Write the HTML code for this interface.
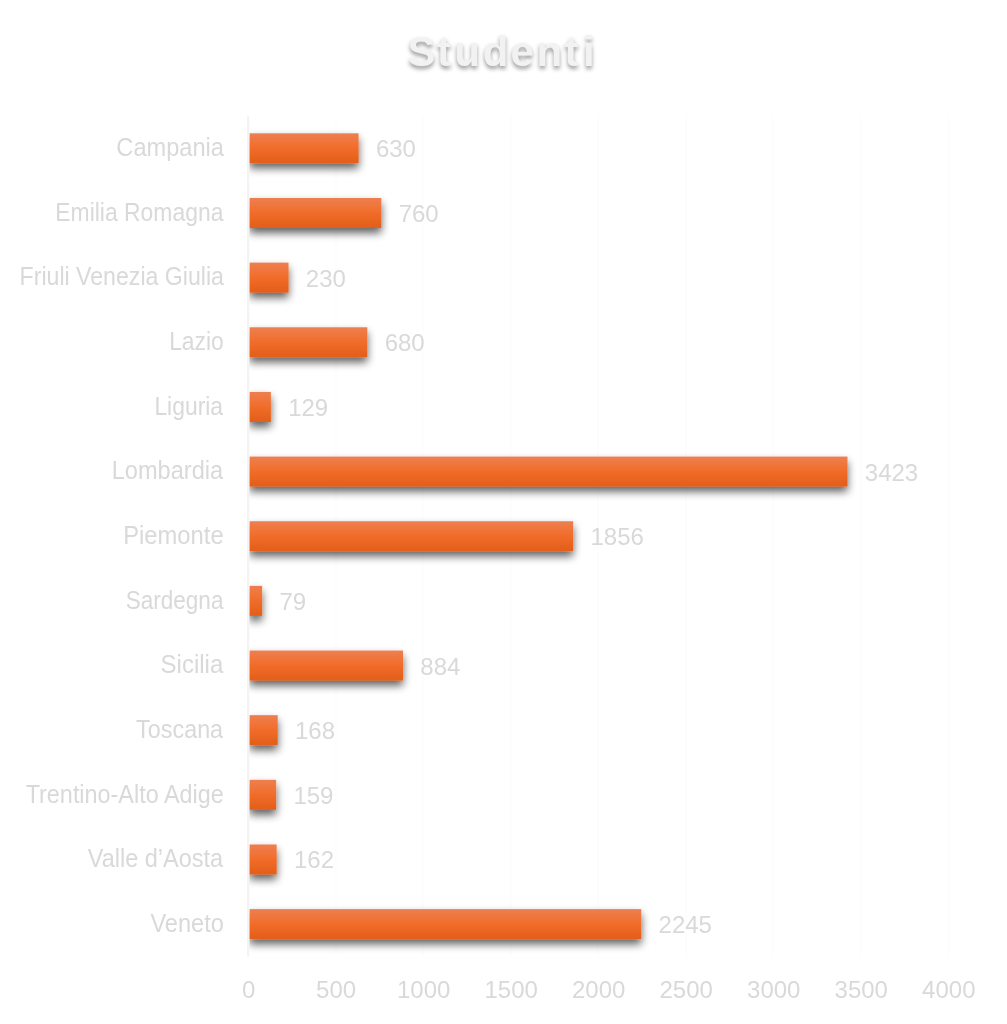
<!DOCTYPE html>
<html lang="it"><head><meta charset="utf-8"><title>Studenti</title>
<style>
html,body{margin:0;padding:0;background:#fff;}
body{width:1007px;height:1024px;position:relative;overflow:hidden;font-family:"Liberation Sans",sans-serif;color:#d9d9d9;font-size:24px;}
svg{position:absolute;left:0;top:0;}
.c{position:absolute;transform-origin:100% 50%;text-align:right;white-space:nowrap;line-height:28px;height:28px;font-size:25px;}
.v{position:absolute;white-space:nowrap;line-height:28px;height:28px;}
.x{position:absolute;top:976px;width:120px;margin-left:-60px;text-align:center;line-height:28px;white-space:nowrap;}
</style></head><body>

<svg width="1007" height="1024" viewBox="0 0 1007 1024">
<defs><linearGradient id="og" x1="0" y1="0" x2="0" y2="1"><stop offset="0" stop-color="#ee7f50"/><stop offset="0.5" stop-color="#f16c29"/><stop offset="1" stop-color="#e25e19"/></linearGradient>

<filter id="sh0" x="219.4" y="108.3" width="170.3" height="85.0" filterUnits="userSpaceOnUse"><feGaussianBlur in="SourceAlpha" stdDeviation="4.5"/><feOffset dx="-0.3" dy="5"/><feComponentTransfer><feFuncA type="linear" slope="0.63"/></feComponentTransfer><feMerge><feMergeNode/><feMergeNode in="SourceGraphic"/></feMerge></filter>
<filter id="sh1" x="219.4" y="173.0" width="193.0" height="85.0" filterUnits="userSpaceOnUse"><feGaussianBlur in="SourceAlpha" stdDeviation="4.5"/><feOffset dx="-0.3" dy="5"/><feComponentTransfer><feFuncA type="linear" slope="0.63"/></feComponentTransfer><feMerge><feMergeNode/><feMergeNode in="SourceGraphic"/></feMerge></filter>
<filter id="sh2" x="219.4" y="237.6" width="100.3" height="85.0" filterUnits="userSpaceOnUse"><feGaussianBlur in="SourceAlpha" stdDeviation="4.5"/><feOffset dx="-0.3" dy="5"/><feComponentTransfer><feFuncA type="linear" slope="0.63"/></feComponentTransfer><feMerge><feMergeNode/><feMergeNode in="SourceGraphic"/></feMerge></filter>
<filter id="sh3" x="219.4" y="302.3" width="179.0" height="85.0" filterUnits="userSpaceOnUse"><feGaussianBlur in="SourceAlpha" stdDeviation="4.5"/><feOffset dx="-0.3" dy="5"/><feComponentTransfer><feFuncA type="linear" slope="0.63"/></feComponentTransfer><feMerge><feMergeNode/><feMergeNode in="SourceGraphic"/></feMerge></filter>
<filter id="sh4" x="219.4" y="366.9" width="82.6" height="85.0" filterUnits="userSpaceOnUse"><feGaussianBlur in="SourceAlpha" stdDeviation="4.5"/><feOffset dx="-0.3" dy="5"/><feComponentTransfer><feFuncA type="linear" slope="0.63"/></feComponentTransfer><feMerge><feMergeNode/><feMergeNode in="SourceGraphic"/></feMerge></filter>
<filter id="sh5" x="219.4" y="431.6" width="659.2" height="85.0" filterUnits="userSpaceOnUse"><feGaussianBlur in="SourceAlpha" stdDeviation="4.5"/><feOffset dx="-0.3" dy="5"/><feComponentTransfer><feFuncA type="linear" slope="0.63"/></feComponentTransfer><feMerge><feMergeNode/><feMergeNode in="SourceGraphic"/></feMerge></filter>
<filter id="sh6" x="219.4" y="496.2" width="384.9" height="85.0" filterUnits="userSpaceOnUse"><feGaussianBlur in="SourceAlpha" stdDeviation="4.5"/><feOffset dx="-0.3" dy="5"/><feComponentTransfer><feFuncA type="linear" slope="0.63"/></feComponentTransfer><feMerge><feMergeNode/><feMergeNode in="SourceGraphic"/></feMerge></filter>
<filter id="sh7" x="219.4" y="560.9" width="73.8" height="85.0" filterUnits="userSpaceOnUse"><feGaussianBlur in="SourceAlpha" stdDeviation="4.5"/><feOffset dx="-0.3" dy="5"/><feComponentTransfer><feFuncA type="linear" slope="0.63"/></feComponentTransfer><feMerge><feMergeNode/><feMergeNode in="SourceGraphic"/></feMerge></filter>
<filter id="sh8" x="219.4" y="625.5" width="214.7" height="85.0" filterUnits="userSpaceOnUse"><feGaussianBlur in="SourceAlpha" stdDeviation="4.5"/><feOffset dx="-0.3" dy="5"/><feComponentTransfer><feFuncA type="linear" slope="0.63"/></feComponentTransfer><feMerge><feMergeNode/><feMergeNode in="SourceGraphic"/></feMerge></filter>
<filter id="sh9" x="219.4" y="690.2" width="89.4" height="85.0" filterUnits="userSpaceOnUse"><feGaussianBlur in="SourceAlpha" stdDeviation="4.5"/><feOffset dx="-0.3" dy="5"/><feComponentTransfer><feFuncA type="linear" slope="0.63"/></feComponentTransfer><feMerge><feMergeNode/><feMergeNode in="SourceGraphic"/></feMerge></filter>
<filter id="sh10" x="219.4" y="754.8" width="87.8" height="85.0" filterUnits="userSpaceOnUse"><feGaussianBlur in="SourceAlpha" stdDeviation="4.5"/><feOffset dx="-0.3" dy="5"/><feComponentTransfer><feFuncA type="linear" slope="0.63"/></feComponentTransfer><feMerge><feMergeNode/><feMergeNode in="SourceGraphic"/></feMerge></filter>
<filter id="sh11" x="219.4" y="819.5" width="88.4" height="85.0" filterUnits="userSpaceOnUse"><feGaussianBlur in="SourceAlpha" stdDeviation="4.5"/><feOffset dx="-0.3" dy="5"/><feComponentTransfer><feFuncA type="linear" slope="0.63"/></feComponentTransfer><feMerge><feMergeNode/><feMergeNode in="SourceGraphic"/></feMerge></filter>
<filter id="sh12" x="219.4" y="884.1" width="453.0" height="85.0" filterUnits="userSpaceOnUse"><feGaussianBlur in="SourceAlpha" stdDeviation="4.5"/><feOffset dx="-0.3" dy="5"/><feComponentTransfer><feFuncA type="linear" slope="0.63"/></feComponentTransfer><feMerge><feMergeNode/><feMergeNode in="SourceGraphic"/></feMerge></filter>
<clipPath id="cp"><rect x="249.4" y="0" width="760" height="1024"/></clipPath></defs>
<rect x="335" y="116.0" width="2" height="840.45" fill="#fdfdfd"/>
<rect x="422" y="116.0" width="2" height="840.45" fill="#fdfdfd"/>
<rect x="510" y="116.0" width="2" height="840.45" fill="#fdfdfd"/>
<rect x="597" y="116.0" width="2" height="840.45" fill="#fdfdfd"/>
<rect x="685" y="116.0" width="2" height="840.45" fill="#fdfdfd"/>
<rect x="772" y="116.0" width="2" height="840.45" fill="#fdfdfd"/>
<rect x="860" y="116.0" width="2" height="840.45" fill="#fdfdfd"/>
<rect x="948" y="116.0" width="2" height="840.45" fill="#fdfdfd"/>
<rect x="247.00" y="116.0" width="2.2" height="840.45" fill="#f3f3f3"/>
<g clip-path="url(#cp)">
<g filter="url(#sh0)"><rect x="249.40" y="133.32" width="109.18" height="30.0" fill="url(#og)"/></g>
<g filter="url(#sh1)"><rect x="249.40" y="197.98" width="131.94" height="30.0" fill="url(#og)"/></g>
<g filter="url(#sh2)"><rect x="249.40" y="262.62" width="39.16" height="30.0" fill="url(#og)"/></g>
<g filter="url(#sh3)"><rect x="249.40" y="327.28" width="117.93" height="30.0" fill="url(#og)"/></g>
<g filter="url(#sh4)"><rect x="249.40" y="391.93" width="21.48" height="30.0" fill="url(#og)"/></g>
<g filter="url(#sh5)"><rect x="249.40" y="456.57" width="598.10" height="30.0" fill="url(#og)"/></g>
<g filter="url(#sh6)"><rect x="249.40" y="521.23" width="323.79" height="30.0" fill="url(#og)"/></g>
<g filter="url(#sh7)"><rect x="249.40" y="585.88" width="12.73" height="30.0" fill="url(#og)"/></g>
<g filter="url(#sh8)"><rect x="249.40" y="650.53" width="153.64" height="30.0" fill="url(#og)"/></g>
<g filter="url(#sh9)"><rect x="249.40" y="715.18" width="28.31" height="30.0" fill="url(#og)"/></g>
<g filter="url(#sh10)"><rect x="249.40" y="779.83" width="26.73" height="30.0" fill="url(#og)"/></g>
<g filter="url(#sh11)"><rect x="249.40" y="844.48" width="27.26" height="30.0" fill="url(#og)"/></g>
<g filter="url(#sh12)"><rect x="249.40" y="909.13" width="391.89" height="30.0" fill="url(#og)"/></g>
</g>
<text x="407.4 437.1 454.2 482.8 510.6 536.6 564.6 583.0" y="65.6" font-family="Liberation Sans, sans-serif" font-weight="bold" font-size="42" fill="#f2f2f2" style="filter:drop-shadow(0.1px 3.5px 2px rgba(0,0,0,.39))">Studenti</text>
</svg>
<div class="c" style="top:133.12px;right:783.50px;transform:scaleX(0.9442)">Campania</div>
<div class="v" style="top:135.32px;left:375.88px">630</div>
<div class="c" style="top:197.78px;right:783.50px;transform:scaleX(0.9165)">Emilia Romagna</div>
<div class="v" style="top:199.98px;left:398.64px">760</div>
<div class="c" style="top:262.43px;right:783.50px;transform:scaleX(0.9250)">Friuli Venezia Giulia</div>
<div class="v" style="top:264.62px;left:305.86px">230</div>
<div class="c" style="top:327.08px;right:783.50px;transform:scaleX(0.9140)">Lazio</div>
<div class="v" style="top:329.28px;left:384.63px">680</div>
<div class="c" style="top:391.73px;right:783.50px;transform:scaleX(0.9149)">Liguria</div>
<div class="v" style="top:393.93px;left:288.18px">129</div>
<div class="c" style="top:456.38px;right:783.50px;transform:scaleX(0.9436)">Lombardia</div>
<div class="v" style="top:458.57px;left:864.80px">3423</div>
<div class="c" style="top:521.02px;right:783.50px;transform:scaleX(0.9510)">Piemonte</div>
<div class="v" style="top:523.23px;left:590.49px">1856</div>
<div class="c" style="top:585.68px;right:783.50px;transform:scaleX(0.9009)">Sardegna</div>
<div class="v" style="top:587.88px;left:279.43px">79</div>
<div class="c" style="top:650.33px;right:783.50px;transform:scaleX(0.9609)">Sicilia</div>
<div class="v" style="top:652.53px;left:420.34px">884</div>
<div class="c" style="top:714.98px;right:783.50px;transform:scaleX(0.9344)">Toscana</div>
<div class="v" style="top:717.18px;left:295.01px">168</div>
<div class="c" style="top:779.62px;right:783.50px;transform:scaleX(0.9355)">Trentino-Alto Adige</div>
<div class="v" style="top:781.83px;left:293.43px">159</div>
<div class="c" style="top:844.28px;right:783.50px;transform:scaleX(0.9396)">Valle d’Aosta</div>
<div class="v" style="top:846.48px;left:293.96px">162</div>
<div class="c" style="top:908.93px;right:783.50px;transform:scaleX(0.9429)">Veneto</div>
<div class="v" style="top:911.13px;left:658.59px">2245</div>
<div class="x" style="left:248.60px">0</div>
<div class="x" style="left:336.12px">500</div>
<div class="x" style="left:423.65px">1000</div>
<div class="x" style="left:511.18px">1500</div>
<div class="x" style="left:598.70px">2000</div>
<div class="x" style="left:686.23px">2500</div>
<div class="x" style="left:773.75px">3000</div>
<div class="x" style="left:861.28px">3500</div>
<div class="x" style="left:948.80px">4000</div>
</body></html>
